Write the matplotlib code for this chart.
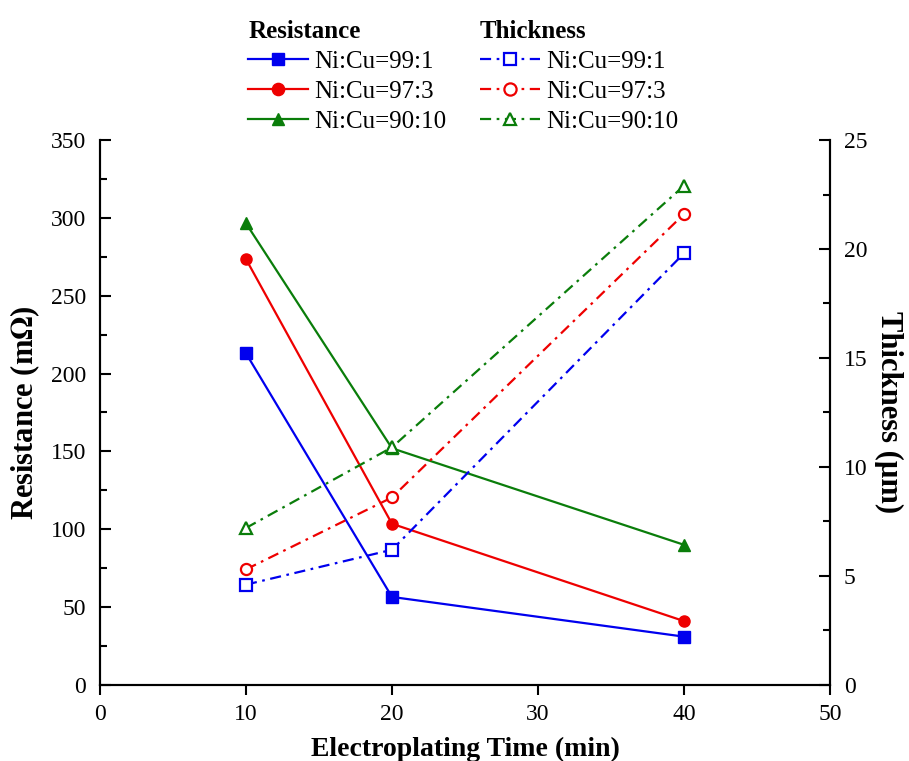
import numpy as np
import matplotlib.pyplot as plt
from matplotlib.ticker import MultipleLocator

plt.rcParams['font.family'] = ['Liberation Serif', 'DejaVu Serif']
plt.rcParams['mathtext.fontset'] = 'stix'

time = [10, 20, 40]
labels = ["Ni:Cu=99:1", "Ni:Cu=97:3", "Ni:Cu=90:10"]
colors = ["#0000ee", "#ee0000", "#0a7d0a"]
markers = ["s", "o", "^"]

res_99_1 = [213, 56.5, 31]
res_97_3 = [273.5, 103.5, 41]
res_90_10 = [296.5, 152, 90]

thk_99_1 = [4.6, 6.2, 19.8]
thk_97_3 = [5.3, 8.6, 21.6]
thk_90_10 = [7.2, 10.9, 22.9]

resistance = [res_99_1, res_97_3, res_90_10]
thickness = [thk_99_1, thk_97_3, thk_90_10]

fig = plt.figure(figsize=(9.09, 7.61), dpi=100)
ax = fig.add_axes([0.110, 0.100, 0.803, 0.716])
ax2 = ax.twinx()

res_handles = []
thk_handles = []
for r, t, c, m, lab in zip(resistance, thickness, colors, markers, labels):
    h1, = ax.plot(time, r, color=c, marker=m, markersize=8, lw=1.6, label=lab)
    h2, = ax2.plot(time, t, color=c, marker=m, markersize=8, lw=1.6,
                   markerfacecolor='white', markeredgewidth=1.6,
                   dashes=(5, 2.5, 1.2, 2.5), label=lab)
    res_handles.append(h1)
    thk_handles.append(h2)

ax.set_xlim(0, 50)
ax.set_ylim(0, 350)
ax2.set_ylim(0, 25)
ax.xaxis.set_major_locator(MultipleLocator(10))
ax.yaxis.set_major_locator(MultipleLocator(50))
ax.yaxis.set_minor_locator(MultipleLocator(25))
ax2.yaxis.set_major_locator(MultipleLocator(5))
ax2.yaxis.set_minor_locator(MultipleLocator(2.5))

for a in (ax, ax2):
    a.spines['top'].set_visible(False)
    for s in a.spines.values():
        s.set_linewidth(1.5)
ax.tick_params(axis='y', which='major', direction='in', length=8, width=1.5, labelsize=17, pad=10)
ax.tick_params(axis='y', which='minor', direction='in', length=5, width=1.5)
ax.tick_params(axis='x', which='major', direction='out', length=7, width=1.5, labelsize=17, pad=7)
ax2.tick_params(axis='y', which='major', direction='in', length=8, width=1.5, labelsize=17, pad=10)
ax2.tick_params(axis='y', which='minor', direction='in', length=5, width=1.5)

ax.set_xlabel("Electroplating Time (min)", fontsize=20, fontweight='bold', labelpad=8)
ax.set_ylabel("Resistance (m$\\mathbf{\\Omega}$)", fontsize=22, fontweight='bold', labelpad=6)
ax2.set_ylabel("Thickness (\u00b5m)", fontsize=22, fontweight='bold', rotation=270, labelpad=26)

leg_kw = dict(frameon=False, fontsize=18, handlelength=2.4, handletextpad=0.24,
              labelspacing=0.3, borderaxespad=0, alignment='left', markerscale=1.1,
              title_fontproperties={'weight': 'bold', 'size': 18})
leg1 = fig.legend(handles=res_handles, title="Resistance", loc='upper left',
                  bbox_to_anchor=(0.262, 0.987), **leg_kw)
leg2 = fig.legend(handles=thk_handles, title="Thickness", loc='upper left',
                  bbox_to_anchor=(0.517, 0.987), **leg_kw)

fig.savefig("out.png", dpi=100)
